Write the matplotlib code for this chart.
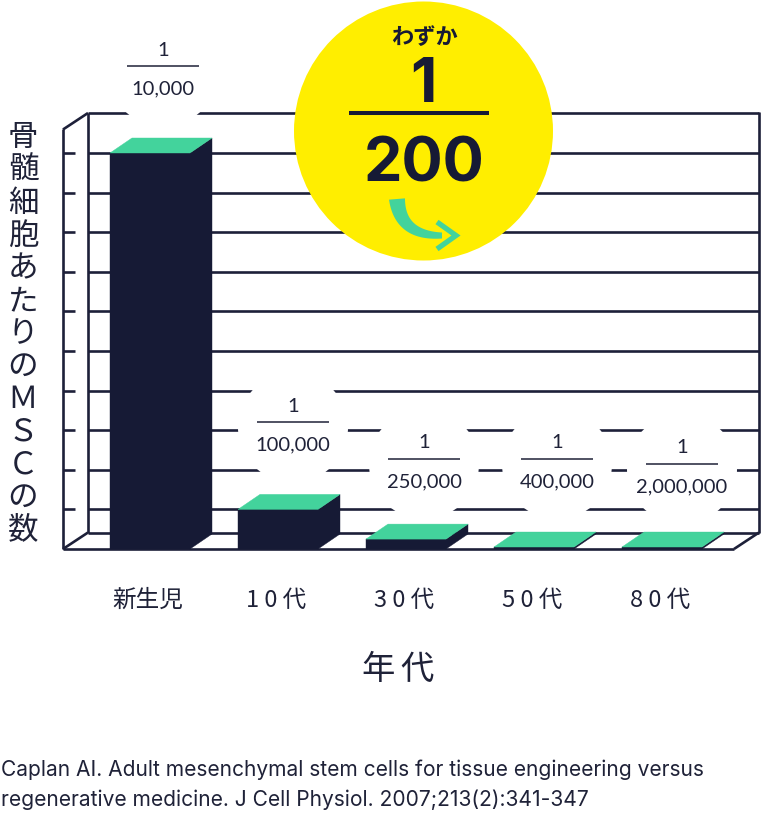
import numpy as np
import matplotlib
matplotlib.use("Agg")
import matplotlib.pyplot as plt
from matplotlib.patches import Polygon, Ellipse

# ---------------- data ----------------
categories = ["新生児", "1 0 代", "3 0 代", "5 0 代", "8 0 代"]
bar_heights = [100, 10, 2.5, 0.5, 0.5]          # relative MSC frequency (newborn = 100)
ratio_numerators = ["1", "1", "1", "1", "1"]
ratio_denominators = ["10,000", "100,000", "250,000", "400,000", "2,000,000"]
y_ticks = [10, 20, 30, 40, 50, 60, 70, 80, 90, 100]
y_label = "骨髄細胞あたりのＭＳＣの数"
x_label = "年代"
callout_top = "わずか"
callout_num = "1"
callout_den = "200"
citation = ["Caplan AI. Adult mesenchymal stem cells for tissue engineering versus",
            "regenerative medicine. J Cell Physiol. 2007;213(2):341-347"]

# ---------------- style / layout ----------------
NAVY = "#161a35"
LINE = "#1d2039"
GREEN = "#43d39c"
YELLOW = "#ffee00"
TEXT = "#1f2238"
W, H = 761, 814
PXX, PXV = 128.0, 3.96      # pixels per category / per value unit
X0, V0 = 150.0, 549.0        # pixel of category 0 / value 0

def dx(px):
    return (px - X0) / PXX

def dv(py):
    return (V0 - py) / PXV

def fx(px):
    return px / W

def fy(py):
    return 1 - py / H

CJK = ["Noto Sans CJK JP", "DejaVu Sans"]

fig = plt.figure(figsize=(7.61, 8.14), dpi=100)
ax = fig.add_axes([0, 0, 1, 1])
ax.set_xlim(-X0 / PXX, (W - X0) / PXX)
ax.set_ylim(-(H - V0) / PXV, V0 / PXV)
ax.axis("off")

# ---------------- box / walls ----------------
lw = 1.9
xf_left = dx(63)
wdx, wdv = 25 / PXX, 16.5 / PXV
xb_left = xf_left + wdx
xb_right = dx(759)
xf_right = xb_right - wdx
top_back = dv(113)
top_front = top_back - wdv

kw = dict(color=LINE, lw=lw, solid_capstyle="butt", zorder=1)
for t in y_ticks:
    ax.plot([xb_left, xb_right], [t, t], **kw)
    ax.plot([xf_left, dx(75)], [t, t], **kw)
ax.plot([xb_left, xb_right], [top_back, top_back], **kw)
ax.plot([xb_left, xb_right], [wdv, wdv], **kw)
ax.plot([xb_left, xb_left], [wdv, top_back], **kw)
ax.plot([xb_right, xb_right], [wdv, top_back + 0.3], **kw)
ax.plot([xf_left, xf_left], [0, top_front], **kw)
ax.plot([xf_left, xb_left], [top_front, top_back], **kw)
ax.plot([xf_left, xb_left], [0, wdv], **kw)
ax.plot([xf_left, xf_right], [0, 0], **kw)
ax.plot([xf_right, xb_right], [0, wdv], **kw)

# ---------------- bars ----------------
xs = np.arange(len(categories))
bw = 80 / PXX
bdx, bdv = 22 / PXX, 15 / PXV
ax.bar(xs, bar_heights, width=bw, color=NAVY, edgecolor=NAVY, lw=0.3, zorder=3)
for x, h in zip(xs, bar_heights):
    r = x + bw / 2
    l = x - bw / 2
    ax.add_patch(Polygon([(r, 0), (r + bdx, bdv), (r + bdx, h + bdv), (r, h)],
                         closed=True, fc=NAVY, ec=NAVY, lw=0.3, zorder=3))
    ax.add_patch(Polygon([(l, h), (r, h), (r + bdx, h + bdv), (l + bdx, h + bdv)],
                         closed=True, fc=GREEN, ec=GREEN, lw=0.3, zorder=3.5))

# ---------------- ratio labels ----------------
label_dx_px = [13, 15, 18, 23, 20]
label_cy_px = [69.5, 425.5, 462, 462, 467]
num_font = dict(family=["Lato", "DejaVu Sans"], fontsize=14.5, color=TEXT,
                ha="center", va="center", zorder=4.5)
for x, ox, cy, n, d in zip(xs, label_dx_px, label_cy_px, ratio_numerators, ratio_denominators):
    cx = x + ox / PXX
    ax.add_patch(Ellipse((cx, dv(cy + 2)), 110 / PXX, 110 / PXV, fc="white", ec="none", zorder=2))
    ax.text(cx, dv(cy - 19), n, **num_font)
    ax.plot([cx - 36 / PXX, cx + 36 / PXX], [dv(cy - 3.5)] * 2, color=TEXT, lw=1.1,
            solid_capstyle="butt", zorder=4.5)
    ax.text(cx, dv(cy + 19.5), d, **num_font)

# ---------------- category labels ----------------
for x, c in zip(xs, categories):
    ax.text(x - 2 / PXX, dv(600), c, family=CJK, fontsize=17, color=TEXT,
            ha="center", va="center")
for ch, px in zip(x_label, [378, 417]):
    fig.text(fx(px), fy(669), ch, family=CJK, fontsize=24, color=TEXT,
             ha="center", va="center")

# vertical y label
n = len(y_label)
for k, ch in enumerate(y_label):
    py = 138 + k * (530 - 138) / (n - 1)
    fig.text(fx(23), fy(py), ch, family=CJK, fontsize=22, color=TEXT,
             ha="center", va="center")

# ---------------- callout circle ----------------
ax.add_patch(Ellipse((fx(423.5), fy(131)), 259 / W, 259 / H, transform=fig.transFigure,
                     fc=YELLOW, ec="none", zorder=5))
fig.text(fx(424), fy(38), callout_top, family=CJK, fontweight="bold", fontsize=16,
         color=NAVY, ha="center", va="center", zorder=6)
fig.text(fx(423), fy(86), callout_num, family=["Inter", "DejaVu Sans"], fontweight="bold",
         fontsize=44, color=NAVY, ha="center", va="center", zorder=6)
ax.plot([fx(349), fx(489)], [fy(113), fy(113)], transform=fig.transFigure, color=NAVY,
        lw=2.9, solid_capstyle="butt", zorder=6)
fig.text(fx(424), fy(165), callout_den, family=["Inter", "DejaVu Sans"], fontweight="bold",
         fontsize=44, color=NAVY, ha="center", va="center", zorder=6)

# curved tapered arrow
t = np.linspace(0, 1, 40)[:, None]
P0, P1, P2 = np.array([397, 199.0]), np.array([400, 236.0]), np.array([442, 235.5])
pts = (1 - t) ** 2 * P0 + 2 * (1 - t) * t * P1 + t ** 2 * P2
der = 2 * (1 - t) * (P1 - P0) + 2 * t * (P2 - P1)
nrm = np.column_stack([-der[:, 1], der[:, 0]])
nrm /= np.linalg.norm(nrm, axis=1)[:, None]
wid = (16 - 10 * t[:, 0]) / 2
side1 = pts + nrm * wid[:, None]
side2 = pts - nrm * wid[:, None]
poly = np.vstack([side1, side2[::-1]])
poly_fig = np.column_stack([poly[:, 0] / W, 1 - poly[:, 1] / H])
ax.add_patch(Polygon(poly_fig, closed=True, transform=fig.transFigure, fc=GREEN, ec="none",
                     zorder=6))
ax.plot([fx(437), fx(456), fx(437)], [fy(222), fy(235.5), fy(249)], transform=fig.transFigure,
        color=GREEN, lw=3.8, solid_joinstyle="miter", solid_capstyle="butt", zorder=6)

# ---------------- citation ----------------
for k, line in enumerate(citation):
    fig.text(fx(1), fy(770 + 30 * k), line, family=["Inter", "DejaVu Sans"], fontsize=15.1,
             fontweight="normal", color=TEXT, ha="left", va="center")

fig.savefig("out.png", dpi=100, facecolor="white")
